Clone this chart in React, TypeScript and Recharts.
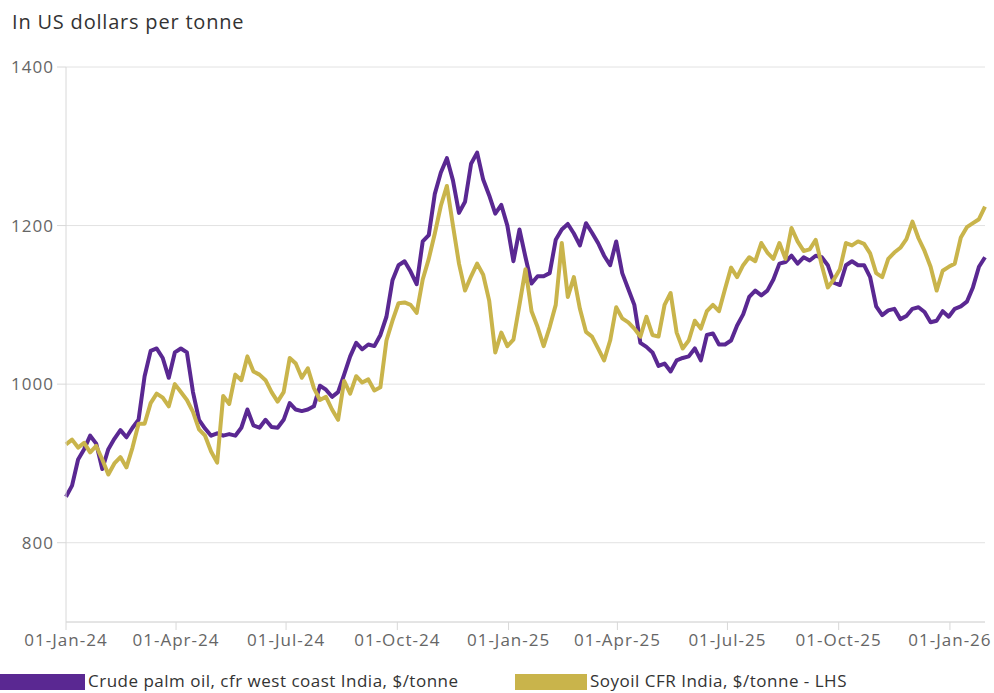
import { LineChart, Line, XAxis, YAxis, CartesianGrid } from "recharts";

// 5-day sampled prices, first point on 01-Jan-24
const palmOil = [
  858, 872, 905, 918, 935, 925, 893, 918, 931, 942,
  933, 945, 955, 1010, 1042, 1045, 1033, 1008, 1040, 1045,
  1040, 990, 955, 944, 935, 938, 935, 937, 935, 945,
  968, 948, 945, 955, 946, 945, 955, 976, 968, 966,
  968, 972, 998, 993, 984, 990, 1012, 1035, 1052, 1044,
  1050, 1048, 1062, 1085, 1131, 1150, 1155, 1142, 1126, 1180,
  1188, 1240, 1267, 1285, 1257, 1216, 1230, 1278, 1292, 1258,
  1238, 1215, 1226, 1200, 1155, 1195, 1160, 1127, 1136, 1136,
  1140, 1182, 1195, 1202, 1190, 1175, 1203, 1191, 1178, 1162,
  1150, 1180, 1140, 1120, 1100, 1052, 1047, 1040, 1023, 1026,
  1016, 1030, 1033, 1035, 1045, 1030, 1062, 1064, 1050, 1050,
  1055, 1074, 1088, 1110, 1118, 1112, 1118, 1132, 1152, 1154,
  1162, 1152, 1160, 1156, 1162, 1160, 1150, 1128, 1125, 1150,
  1155, 1150, 1150, 1135, 1098, 1087, 1093, 1095, 1082, 1086,
  1095, 1097, 1091, 1078, 1080, 1092, 1085, 1095, 1098, 1104,
  1122, 1148, 1160,
];

const soyoil = [
  924, 930, 920, 926, 914, 922, 905, 886, 900, 908,
  895, 920, 950, 950, 976, 988, 983, 972, 1000, 990,
  980, 965, 943, 935, 915, 901, 985, 975, 1012, 1005,
  1035, 1016, 1012, 1005, 990, 978, 990, 1033, 1026, 1008,
  1020, 995, 980, 984, 968, 955, 1004, 988, 1010, 1002,
  1006, 992, 996, 1055, 1080, 1102, 1103, 1100, 1090, 1132,
  1158, 1190, 1225, 1250, 1200, 1152, 1118, 1136, 1152, 1138,
  1105, 1040, 1065, 1048, 1056, 1100, 1145, 1092, 1072, 1048,
  1072, 1100, 1178, 1110, 1135, 1095, 1066, 1060, 1045, 1030,
  1055, 1097, 1083, 1078, 1070, 1060, 1085, 1062, 1060, 1100,
  1115, 1065, 1045, 1055, 1080, 1070, 1092, 1100, 1092, 1120,
  1147, 1135, 1150, 1160, 1155, 1178, 1166, 1158, 1178, 1158,
  1197, 1180, 1168, 1170, 1182, 1150, 1122, 1132, 1145, 1178,
  1175, 1180, 1177, 1165, 1140, 1135, 1158, 1166, 1172, 1183,
  1205, 1184, 1168, 1148, 1118, 1143, 1148, 1152, 1185, 1198,
  1203, 1208, 1224,
];

// days since 01-Jan-24
const tickDays = [0, 91, 182, 274, 366, 456, 547, 639, 731];
const tickLabels = [
  "01-Jan-24", "01-Apr-24", "01-Jul-24", "01-Oct-24",
  "01-Jan-25", "01-Apr-25", "01-Jul-25", "01-Oct-25", "01-Jan-26",
];
const yTicks = [800, 1000, 1200, 1400];

const data = palmOil.map((v, i) => ({ day: i * 5, palm: v, soy: soyoil[i] }));

const PURPLE = "#5a2892";
const GOLD = "#c9b44b";
const FONT = "'Open Sans', Lato, sans-serif";
const tickStyle = { fontSize: 17, fill: "#666", fontFamily: FONT, letterSpacing: 1 };

export default function App() {
  return (
    <div
      style={{
        position: "absolute",
        left: 0,
        top: 0,
        width: 994,
        height: 693,
        background: "#fff",
        fontFamily: FONT,
      }}
    >
      <div
        style={{ position: "absolute", left: 12, top: 8, fontSize: 20, letterSpacing: 0.8, color: "#333" }}
      >
        In US dollars per tonne
      </div>
      <LineChart
        width={994}
        height={693}
        data={data}
        margin={{ top: 67, right: 9, left: 0, bottom: 31 }}
      >
        <CartesianGrid vertical={false} stroke="#e2e2e2" />
        <XAxis
          dataKey="day"
          type="number"
          domain={[0, 760]}
          ticks={tickDays}
          tickFormatter={(d) => tickLabels[tickDays.indexOf(d)]}
          stroke="#d8d8d8"
          tickSize={8}
          tickMargin={4}
          height={40}
          tick={tickStyle}
          interval={0}
        />
        <YAxis
          domain={[700, 1400]}
          ticks={yTicks}
          stroke="#d8d8d8"
          width={66}
          tickSize={9}
          tickMargin={3}
          tick={tickStyle}
        />
        <Line
          type="linear"
          dataKey="palm"
          stroke={PURPLE}
          strokeWidth={4}
          strokeLinejoin="round"
          dot={false}
          isAnimationActive={false}
        />
        <Line
          type="linear"
          dataKey="soy"
          stroke={GOLD}
          strokeWidth={4}
          strokeLinejoin="round"
          dot={false}
          isAnimationActive={false}
        />
      </LineChart>
      <div style={{ position: "absolute", left: 0, top: 674, width: 85, height: 16, background: PURPLE }} />
      <div
        style={{ position: "absolute", left: 88, top: 669, fontSize: 17, letterSpacing: 0.5, color: "#333" }}
      >
        Crude palm oil, cfr west coast India, $/tonne
      </div>
      <div style={{ position: "absolute", left: 515, top: 674, width: 72, height: 16, background: GOLD }} />
      <div
        style={{ position: "absolute", left: 590, top: 669, fontSize: 17, letterSpacing: 0.5, color: "#333" }}
      >
        Soyoil CFR India, $/tonne - LHS
      </div>
    </div>
  );
}
